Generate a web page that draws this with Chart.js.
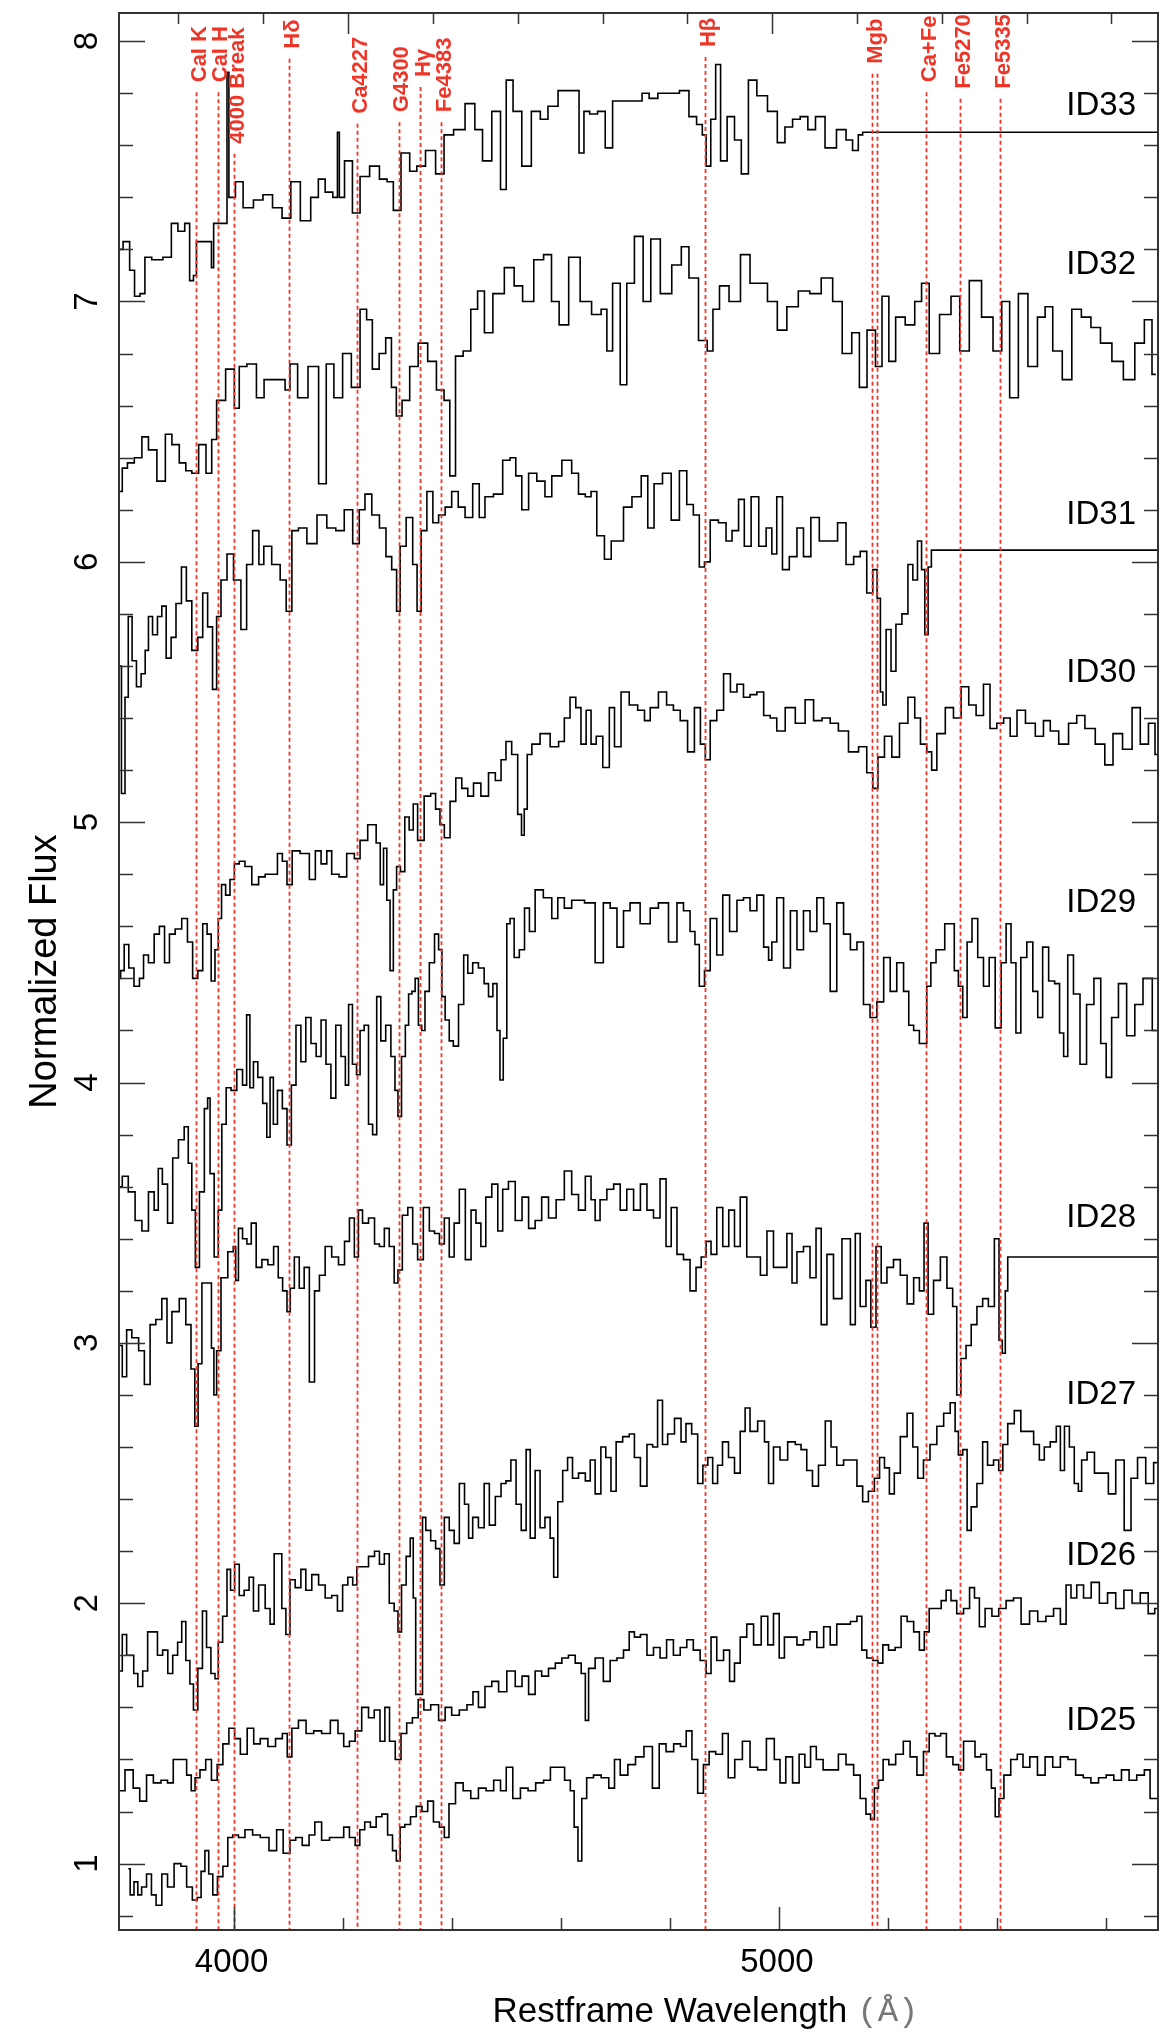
<!DOCTYPE html>
<html><head><meta charset="utf-8">
<script src="https://cdn.jsdelivr.net/npm/chart.js@4.4.1/dist/chart.umd.min.js"></script>
<style>html,body{margin:0;padding:0;background:#fff;}canvas{display:block;}</style>
</head><body>
<canvas id="c" width="1174" height="2040"></canvas>
<script>
// ---------- DATA (restframe wavelength in Å, normalized flux) ----------
const wl33 = [3791,3804,3815,3822,3835,3840,3860,3881,3891,3905,
 3916,3923,3930,3934,3958,3961,3966,3986,3990,3993,
 4000,4007,4028,4045,4063,4080,4098,4112,4133,4150,
 4161,4175,4189,4192,4196,4211,4225,4239,4260,4275,
 4288,4298,4316,4330,4342,4362,4379,4393,4414,4435,
 4450,4463,4484,4495,4505,4520,4537,4555,4570,4583,
 4607,4628,4639,4646,4660,4675,4688,4702,4723,4744,
 4754,4770,4786,4807,4828,4842,4856,4863,4870,4880,
 4888,4898,4912,4925,4937,4951,4968,4990,5004,5018,
 5032,5046,5060,5074,5095,5116,5130,5140,5151,5156,
 5695];
const fx33 = [7.20,7.23,7.12,7.02,7.03,7.17,7.16,7.17,7.30,7.27,
 7.30,7.08,7.10,7.23,7.23,7.13,7.30,7.30,7.88,7.40,
 7.40,7.46,7.36,7.39,7.41,7.36,7.32,7.46,7.31,7.40,
 7.47,7.42,7.40,7.65,7.40,7.54,7.34,7.48,7.52,7.47,
 7.46,7.35,7.57,7.50,7.52,7.58,7.49,7.64,7.66,7.76,
 7.66,7.54,7.73,7.43,7.85,7.73,7.52,7.73,7.70,7.75,
 7.81,7.81,7.57,7.73,7.72,7.73,7.59,7.77,7.77,7.77,
 7.80,7.78,7.80,7.80,7.81,7.71,7.68,7.64,7.52,7.70,
 7.91,7.54,7.71,7.62,7.49,7.85,7.79,7.73,7.61,7.67,
 7.70,7.71,7.66,7.71,7.59,7.66,7.62,7.58,7.64,7.65,
 7.65];

const wl32 = [3791,3801,3810,3826,3838,3850,3869,3881,3893,3908,
 3917,3930,3942,3957,3963,3975,3996,4007,4014,4035,
 4049,4063,4091,4098,4109,4126,4147,4165,4175,4193,
 4207,4225,4239,4249,4260,4274,4284,4295,4302,4316,
 4330,4347,4365,4379,4393,4400,4414,4428,4442,4453,
 4467,4484,4509,4520,4540,4561,4576,4590,4604,4625,
 4646,4667,4681,4688,4702,4716,4726,4744,4758,4772,
 4793,4814,4828,4842,4863,4874,4884,4898,4919,4940,
 4954,4968,4990,5004,5025,5046,5067,5088,5109,5123,
 5144,5151,5172,5182,5196,5207,5221,5242,5256,5267,
 5284,5305,5326,5337,5361,5382,5403,5414,5432,5446,
 5467,5481,5495,5509,5530,5544,5565,5579,5600,5621,
 5642,5663,5677,5691];
const fx32 = [6.27,6.36,6.38,6.40,6.48,6.43,6.31,6.49,6.45,6.38,
 6.35,6.34,6.45,6.34,6.47,6.62,6.74,6.59,6.75,6.76,
 6.63,6.70,6.70,6.66,6.76,6.63,6.75,6.30,6.76,6.63,
 6.80,6.67,6.97,6.93,6.74,6.80,6.86,6.67,6.56,6.62,
 6.75,6.84,6.77,6.66,6.62,6.33,6.79,6.81,6.97,7.04,
 6.88,7.03,7.13,7.06,7.00,7.16,7.18,7.00,6.91,7.17,
 7.00,6.95,6.97,6.81,7.07,6.68,7.07,7.25,7.00,7.24,
 7.03,7.14,7.21,7.09,6.85,6.81,6.97,7.06,7.00,7.18,
 7.07,7.07,7.00,6.89,6.98,7.04,7.03,7.09,7.00,6.80,
 6.88,6.67,6.89,6.75,7.02,6.77,6.94,6.91,7.00,7.07,
 6.80,6.95,7.02,6.81,7.08,6.94,6.81,7.00,6.63,7.03,
 6.75,6.94,6.98,6.81,6.70,6.97,6.94,6.90,6.84,6.77,
 6.70,6.84,6.93,6.72];

const wl31 = [3791,3798,3804,3810,3818,3826,3835,3841,3847,3856,
 3865,3872,3881,3890,3899,3910,3917,3930,3939,3948,
 3957,3966,3972,3982,3994,4006,4021,4027,4043,4050,
 4061,4079,4092,4101,4113,4125,4144,4162,4180,4195,
 4211,4226,4235,4247,4260,4275,4284,4296,4302,4309,
 4324,4333,4340,4348,4361,4370,4382,4394,4406,4418,
 4431,4446,4455,4467,4486,4501,4513,4522,4535,4547,
 4565,4577,4590,4614,4626,4639,4651,4660,4672,4688,
 4697,4709,4721,4740,4755,4764,4778,4795,4810,4825,
 4837,4849,4859,4868,4880,4898,4908,4920,4932,4941,
 4957,4969,4984,4990,5002,5011,5027,5039,5051,5066,
 5082,5100,5115,5131,5143,5155,5167,5177,5183,5189,
 5192,5201,5210,5219,5232,5241,5250,5258,5265,5270,
 5277,5282,5695];
const fx31 = [5.60,5.11,5.48,5.79,5.62,5.52,5.57,5.66,5.79,5.72,
 5.79,5.83,5.63,5.71,5.84,5.98,5.85,5.66,5.71,5.88,
 5.75,5.51,5.79,5.93,6.03,5.93,5.74,5.99,6.12,5.99,
 6.06,5.99,5.93,5.81,6.12,6.13,6.07,6.18,6.13,6.12,
 6.20,6.07,6.20,6.26,6.18,6.13,6.02,5.97,5.81,6.06,
 6.17,5.99,5.81,6.12,6.27,6.15,6.18,6.21,6.27,6.21,
 6.17,6.30,6.17,6.25,6.26,6.39,6.40,6.33,6.20,6.34,
 6.31,6.25,6.33,6.39,6.34,6.26,6.25,6.27,6.10,6.01,
 6.08,6.08,6.21,6.25,6.33,6.13,6.30,6.34,6.16,6.35,
 6.22,6.18,5.98,6.00,6.16,6.15,6.08,6.12,6.24,6.06,
 6.25,6.06,6.13,6.03,6.25,5.97,6.02,6.13,6.02,6.17,
 6.08,6.08,6.15,5.99,6.02,6.04,5.88,5.97,5.86,5.50,
 5.45,5.74,5.58,5.76,5.80,5.99,5.93,6.08,5.97,5.72,
 5.98,6.045,6.045];

const wl30 = [3791,3795,3804,3812,3823,3832,3838,3850,3859,3869,
 3878,3887,3899,3911,3920,3930,3939,3948,3955,3963,
 3969,3975,3981,3990,3997,4006,4015,4027,4040,4052,
 4064,4076,4085,4094,4102,4113,4131,4147,4153,4168,
 4174,4186,4201,4214,4229,4235,4257,4266,4272,4278,
 4284,4290,4296,4302,4310,4318,4326,4333,4342,4357,
 4366,4375,4382,4391,4403,4412,4425,4434,4446,4461,
 4474,4486,4495,4504,4516,4526,4530,4536,4541,4553,
 4571,4590,4602,4611,4623,4632,4642,4651,4660,4670,
 4684,4694,4703,4718,4733,4749,4758,4770,4788,4800,
 4813,4825,4840,4850,4862,4868,4880,4892,4905,4917,
 4929,4941,4953,4966,4978,4990,5002,5021,5039,5057,
 5070,5088,5100,5118,5137,5155,5167,5177,5186,5201,
 5213,5229,5244,5254,5265,5277,5283,5296,5314,5326,
 5342,5354,5369,5381,5393,5406,5418,5430,5443,5461,
 5479,5491,5504,5522,5540,5552,5570,5590,5605,5620,
 5640,5655,5670,5685,5694];
const fx30 = [4.40,4.43,4.53,4.44,4.37,4.40,4.49,4.46,4.57,4.60,
 4.46,4.57,4.59,4.63,4.54,4.40,4.43,4.61,4.57,4.39,
 4.51,4.63,4.76,4.72,4.78,4.84,4.85,4.83,4.76,4.79,
 4.80,4.80,4.88,4.85,4.76,4.89,4.88,4.78,4.89,4.84,
 4.89,4.80,4.79,4.88,4.86,4.93,4.99,4.92,4.76,4.90,
 4.70,4.43,4.74,4.83,4.81,5.02,4.97,5.07,4.93,5.10,
 5.11,5.05,4.99,4.94,5.08,5.17,5.13,5.10,5.15,5.10,
 5.19,5.16,5.24,5.31,5.26,5.03,4.95,5.05,5.26,5.30,
 5.34,5.29,5.31,5.40,5.48,5.44,5.30,5.43,5.30,5.33,
 5.21,5.44,5.29,5.50,5.45,5.43,5.39,5.44,5.50,5.45,
 5.43,5.39,5.27,5.44,5.30,5.24,5.39,5.43,5.57,5.50,
 5.53,5.48,5.49,5.50,5.41,5.40,5.35,5.44,5.38,5.47,
 5.39,5.40,5.38,5.35,5.27,5.29,5.19,5.13,5.25,5.33,
 5.25,5.38,5.48,5.40,5.30,5.27,5.20,5.34,5.44,5.40,
 5.52,5.45,5.41,5.53,5.36,5.38,5.40,5.33,5.43,5.38,
 5.33,5.39,5.35,5.30,5.38,5.41,5.36,5.30,5.22,5.34,
 5.28,5.44,5.30,5.38,5.26];

const wl29 = [3791,3801,3813,3826,3838,3850,3859,3865,3874,3884,
 3893,3905,3914,3920,3927,3933,3942,3951,3954,3960,
 3969,3975,3982,3991,4000,4012,4021,4027,4033,4040,
 4049,4058,4064,4070,4076,4085,4094,4102,4110,4119,
 4128,4137,4147,4156,4165,4174,4183,4192,4202,4208,
 4214,4222,4229,4235,4244,4251,4259,4266,4274,4284,
 4293,4299,4304,4312,4318,4324,4330,4336,4342,4348,
 4354,4364,4373,4379,4385,4391,4400,4406,4419,4425,
 4434,4443,4455,4464,4471,4480,4486,4491,4498,4504,
 4510,4519,4529,4538,4547,4559,4577,4590,4599,4614,
 4626,4639,4648,4660,4666,4672,4684,4697,4709,4721,
 4733,4758,4770,4788,4807,4819,4831,4843,4849,4859,
 4868,4880,4892,4902,4917,4929,4941,4953,4966,4978,
 4984,4990,5002,5015,5027,5039,5051,5063,5076,5088,
 5100,5112,5125,5137,5149,5161,5173,5186,5198,5210,
 5222,5235,5241,5253,5262,5268,5274,5283,5293,5300,
 5308,5317,5326,5332,5342,5348,5360,5369,5381,5390,
 5403,5412,5421,5430,5439,5448,5461,5470,5479,5488,
 5501,5510,5519,5525,5534,5546,5558,5570,5585,5595,
 5605,5615,5630,5645,5660,5675,5694];
const fx29 = [3.60,3.64,3.58,3.47,3.43,3.58,3.51,3.67,3.61,3.46,
 3.71,3.78,3.83,3.69,3.51,3.29,3.58,3.90,3.94,3.65,
 3.33,3.51,3.84,3.98,3.97,4.05,3.99,4.26,3.98,4.08,
 4.02,3.92,3.79,4.02,3.84,3.97,3.90,3.76,3.99,4.22,
 4.08,4.25,4.15,4.10,4.24,4.07,3.94,4.22,4.10,3.99,
 4.30,4.07,4.03,4.20,4.22,3.84,3.80,4.33,4.16,4.22,
 4.10,3.97,3.87,4.10,4.22,4.34,4.35,4.40,4.22,4.20,
 4.35,4.46,4.57,4.51,4.33,4.24,4.16,4.14,4.30,4.49,
 4.42,4.46,4.44,4.38,4.33,4.38,4.20,4.01,4.17,4.61,
 4.63,4.48,4.51,4.67,4.58,4.74,4.71,4.63,4.71,4.67,
 4.70,4.70,4.69,4.69,4.46,4.46,4.69,4.67,4.52,4.66,
 4.69,4.61,4.67,4.69,4.54,4.69,4.66,4.58,4.53,4.37,
 4.43,4.63,4.49,4.72,4.58,4.70,4.71,4.66,4.72,4.52,
 4.47,4.54,4.71,4.44,4.66,4.51,4.66,4.58,4.71,4.61,
 4.35,4.69,4.57,4.51,4.54,4.30,4.25,4.31,4.48,4.35,
 4.46,4.35,4.22,4.20,4.15,4.15,4.37,4.46,4.51,4.51,
 4.61,4.61,4.43,4.37,4.25,4.54,4.63,4.48,4.37,4.48,
 4.21,4.46,4.61,4.46,4.19,4.48,4.54,4.35,4.25,4.52,
 4.39,4.38,4.19,4.10,4.49,4.34,4.07,4.30,4.40,4.15,
 4.02,4.25,4.38,4.18,4.30,4.40,4.20];

const wl28 = [3791,3801,3807,3820,3832,3841,3853,3862,3875,3881,
 3893,3908,3917,3927,3931,3939,3945,3957,3962,3966,
 3972,3982,3997,4002,4006,4012,4021,4028,4037,4046,
 4058,4068,4079,4085,4095,4101,4107,4116,4125,4134,
 4144,4153,4162,4174,4186,4199,4208,4217,4226,4232,
 4241,4254,4263,4272,4281,4290,4299,4304,4315,4324,
 4333,4342,4354,4364,4373,4382,4391,4400,4409,4419,
 4431,4440,4449,4458,4467,4480,4489,4498,4510,4523,
 4535,4547,4559,4571,4584,4599,4614,4626,4639,4651,
 4660,4666,4678,4691,4703,4715,4727,4740,4752,4764,
 4776,4788,4798,4807,4819,4831,4843,4853,4862,4871,
 4880,4892,4902,4914,4923,4935,4947,4960,4972,4984,
 4996,5008,5021,5027,5039,5051,5063,5073,5082,5094,
 5106,5125,5137,5143,5155,5164,5173,5183,5192,5204,
 5216,5229,5241,5253,5262,5270,5277,5290,5302,5314,
 5323,5329,5338,5348,5357,5369,5378,5390,5400,5407,
 5412,5418,5421,5695];
const fx28 = [2.99,2.87,3.05,3.02,2.97,2.84,3.07,3.09,3.17,3.00,
 3.12,3.17,3.07,2.90,2.68,2.92,3.23,3.23,2.98,2.80,
 2.97,3.25,3.35,3.37,3.24,3.44,3.40,3.38,3.46,3.29,
 3.32,3.30,3.37,3.25,3.20,3.12,3.21,3.33,3.21,3.29,
 2.85,3.20,3.26,3.37,3.33,3.30,3.39,3.48,3.33,3.51,
 3.46,3.48,3.38,3.37,3.44,3.37,3.23,3.28,3.49,3.52,
 3.38,3.32,3.52,3.43,3.42,3.38,3.48,3.33,3.46,3.59,
 3.32,3.51,3.46,3.37,3.56,3.61,3.43,3.59,3.62,3.47,
 3.56,3.44,3.47,3.56,3.48,3.55,3.66,3.57,3.51,3.64,
 3.55,3.47,3.55,3.59,3.61,3.51,3.59,3.51,3.61,3.51,
 3.48,3.63,3.37,3.52,3.34,3.32,3.20,3.29,3.33,3.39,
 3.34,3.52,3.37,3.51,3.37,3.56,3.33,3.33,3.26,3.43,
 3.29,3.29,3.42,3.23,3.35,3.37,3.25,3.44,3.07,3.34,
 3.17,3.40,3.07,3.42,3.14,3.24,3.06,3.37,3.23,3.29,
 3.32,3.26,3.15,3.25,3.20,3.46,3.11,3.24,3.33,3.21,
 3.14,2.80,2.94,2.99,3.07,3.14,3.17,3.14,3.40,3.01,
 2.96,3.20,3.33,3.33];

const wl27 = [3791,3801,3807,3814,3820,3829,3838,3847,3856,3865,
 3875,3884,3893,3902,3908,3917,3923,3930,3939,3947,
 3954,3963,3969,3975,3985,3991,3998,4006,4015,4024,
 4033,4040,4052,4064,4070,4079,4085,4092,4100,4107,
 4119,4128,4137,4150,4162,4174,4186,4195,4205,4214,
 4223,4229,4241,4254,4263,4272,4281,4290,4299,4304,
 4312,4321,4327,4332,4336,4345,4348,4357,4366,4375,
 4382,4391,4400,4409,4419,4428,4434,4443,4455,4464,
 4474,4486,4495,4504,4513,4523,4532,4541,4547,4559,
 4565,4577,4584,4590,4599,4608,4617,4626,4639,4651,
 4657,4669,4678,4687,4697,4706,4721,4730,4740,4752,
 4764,4773,4782,4791,4801,4816,4825,4834,4846,4856,
 4865,4874,4883,4892,4901,4914,4923,4935,4941,4953,
 4969,4978,4984,4996,5008,5024,5036,5045,5057,5066,
 5079,5091,5100,5112,5125,5137,5149,5158,5170,5180,
 5189,5198,5207,5216,5229,5241,5250,5259,5271,5283,
 5296,5308,5320,5326,5332,5342,5348,5357,5369,5378,
 5387,5400,5406,5415,5424,5439,5448,5461,5473,5482,
 5491,5504,5513,5519,5528,5537,5546,5552,5558,5572,
 5585,5598,5610,5625,5641,5650,5665,5680,5694];
const fx27 = [1.74,1.88,1.80,1.80,1.73,1.68,1.74,1.89,1.89,1.80,
 1.82,1.73,1.80,1.85,1.93,1.78,1.69,1.59,1.75,1.97,
 1.83,1.73,1.71,1.85,1.95,2.13,2.05,2.15,2.03,2.05,
 2.10,1.97,2.07,1.98,1.92,2.19,2.19,1.98,1.88,2.09,
 2.06,2.13,2.05,2.11,2.07,2.02,2.03,1.97,2.07,2.10,
 2.07,2.14,2.14,2.18,2.20,2.15,2.19,2.00,1.97,1.89,
 2.07,2.18,2.25,2.02,1.65,1.65,2.33,2.28,2.24,2.21,
 2.07,2.33,2.28,2.23,2.46,2.38,2.25,2.33,2.29,2.46,
 2.30,2.41,2.46,2.47,2.55,2.38,2.28,2.59,2.25,2.51,
 2.29,2.33,2.25,2.10,2.39,2.51,2.56,2.48,2.50,2.47,
 2.55,2.42,2.60,2.56,2.43,2.62,2.64,2.65,2.56,2.45,
 2.61,2.60,2.78,2.61,2.65,2.71,2.62,2.69,2.65,2.46,
 2.53,2.56,2.46,2.53,2.62,2.56,2.50,2.66,2.75,2.66,
 2.70,2.62,2.46,2.60,2.55,2.62,2.61,2.59,2.51,2.45,
 2.53,2.70,2.60,2.53,2.55,2.55,2.45,2.39,2.43,2.48,
 2.56,2.52,2.42,2.50,2.64,2.73,2.60,2.48,2.55,2.61,
 2.68,2.73,2.77,2.66,2.57,2.59,2.28,2.37,2.46,2.62,
 2.53,2.55,2.51,2.61,2.69,2.74,2.66,2.66,2.61,2.55,
 2.60,2.62,2.68,2.51,2.68,2.60,2.46,2.43,2.55,2.58,
 2.50,2.50,2.42,2.55,2.28,2.48,2.56,2.46,2.54];

const wl26 = [3791,3811,3821,3835,3846,3860,3874,3884,3895,3909,
 3919,3926,3933,3944,3954,3965,3975,3986,3997,4007,
 4018,4032,4042,4056,4070,4084,4095,4102,4112,4126,
 4140,4154,4169,4186,4197,4207,4218,4228,4242,4253,
 4263,4274,4281,4291,4302,4312,4323,4333,4344,4354,
 4369,4383,4393,4407,4421,4435,4443,4455,4467,4480,
 4492,4510,4523,4535,4547,4559,4571,4584,4596,4608,
 4620,4633,4642,4648,4654,4672,4684,4697,4709,4721,
 4730,4740,4752,4764,4776,4788,4800,4813,4825,4837,
 4849,4862,4871,4880,4892,4905,4914,4923,4935,4947,
 4960,4975,4984,4996,5005,5015,5027,5039,5051,5063,
 5076,5088,5100,5112,5125,5137,5149,5155,5167,5177,
 5186,5195,5207,5219,5229,5241,5253,5262,5271,5280,
 5293,5302,5311,5320,5332,5345,5354,5363,5372,5384,
 5397,5409,5424,5436,5452,5467,5482,5497,5510,5522,
 5531,5540,5552,5565,5580,5595,5610,5625,5640,5655,
 5670,5684,5694];
const fx26 = [1.28,1.36,1.29,1.24,1.34,1.31,1.32,1.31,1.40,1.40,
 1.34,1.28,1.33,1.36,1.40,1.32,1.38,1.46,1.52,1.48,
 1.42,1.52,1.46,1.48,1.45,1.48,1.50,1.41,1.52,1.55,
 1.50,1.51,1.50,1.55,1.50,1.45,1.47,1.51,1.60,1.56,
 1.59,1.47,1.60,1.47,1.40,1.50,1.54,1.56,1.63,1.59,
 1.61,1.55,1.60,1.57,1.59,1.61,1.66,1.60,1.68,1.70,
 1.66,1.74,1.68,1.72,1.65,1.74,1.72,1.75,1.77,1.79,
 1.80,1.77,1.73,1.55,1.75,1.79,1.70,1.78,1.79,1.82,
 1.89,1.87,1.88,1.80,1.83,1.79,1.86,1.80,1.83,1.86,
 1.82,1.78,1.73,1.87,1.78,1.82,1.70,1.77,1.87,1.92,
 1.84,1.95,1.84,1.96,1.79,1.87,1.87,1.84,1.86,1.89,
 1.83,1.91,1.84,1.92,1.92,1.93,1.95,1.82,1.79,1.78,
 1.77,1.84,1.82,1.83,1.95,1.93,1.89,1.82,1.89,1.98,
 1.98,2.01,2.05,2.01,1.96,1.98,2.06,2.02,1.91,1.98,
 1.95,1.98,2.01,2.02,1.92,1.97,1.93,1.95,1.98,1.92,
 2.07,2.02,2.07,2.02,2.08,2.00,2.04,1.98,2.05,2.00,
 2.04,1.96,1.98];

const wl25 = [3807,3814,3821,3828,3835,3846,3853,3863,3874,3884,
 3898,3909,3919,3930,3937,3944,3951,3958,3966,3975,
 3986,3993,4004,4014,4028,4042,4056,4074,4084,4098,
 4109,4119,4133,4144,4154,4169,4183,4197,4207,4218,
 4228,4235,4246,4256,4267,4277,4288,4295,4302,4309,
 4319,4330,4340,4351,4361,4372,4383,4390,4400,4414,
 4428,4442,4456,4470,4484,4495,4505,4519,4533,4547,
 4561,4576,4586,4600,4614,4621,4628,4635,4642,4653,
 4667,4681,4695,4702,4716,4730,4744,4761,4775,4786,
 4800,4814,4825,4835,4846,4856,4867,4877,4891,4902,
 4912,4926,4940,4954,4968,4986,4997,5007,5018,5032,
 5042,5053,5063,5074,5088,5102,5116,5130,5144,5154,
 5165,5171,5179,5186,5196,5207,5221,5235,5246,5260,
 5270,5281,5291,5302,5312,5326,5333,5344,5354,5365,
 5375,5386,5393,5400,5407,5418,5432,5442,5453,5467,
 5481,5495,5509,5523,5537,5551,5565,5579,5593,5607,
 5621,5635,5649,5663,5677,5684,5694];
const fx25 = [0.98,0.88,0.93,0.88,0.91,0.96,0.88,0.84,0.96,0.91,
 1.00,0.99,0.91,0.86,0.87,0.97,1.05,0.96,0.88,0.95,
 0.99,1.10,1.11,1.10,1.13,1.11,1.10,1.05,1.13,1.04,
 1.09,1.10,1.07,1.11,1.16,1.09,1.10,1.10,1.14,1.10,
 1.07,1.13,1.16,1.14,1.18,1.19,1.11,1.05,1.01,1.14,
 1.15,1.18,1.22,1.20,1.24,1.16,1.14,1.10,1.23,1.31,
 1.28,1.25,1.29,1.28,1.32,1.28,1.37,1.25,1.29,1.28,
 1.31,1.32,1.37,1.37,1.32,1.28,1.14,1.01,1.25,1.33,
 1.34,1.33,1.29,1.40,1.34,1.38,1.41,1.45,1.29,1.46,
 1.43,1.46,1.45,1.51,1.40,1.27,1.38,1.43,1.42,1.50,
 1.33,1.40,1.47,1.37,1.36,1.48,1.40,1.31,1.41,1.31,
 1.42,1.37,1.45,1.40,1.36,1.36,1.42,1.38,1.34,1.25,
 1.19,1.17,1.29,1.32,1.40,1.38,1.42,1.47,1.41,1.34,
 1.43,1.50,1.49,1.50,1.41,1.38,1.36,1.47,1.47,1.41,
 1.42,1.36,1.29,1.18,1.25,1.34,1.40,1.42,1.37,1.41,
 1.34,1.41,1.37,1.41,1.40,1.34,1.33,1.31,1.33,1.34,
 1.32,1.36,1.32,1.34,1.36,1.25,1.25];

const seriesNames = ['ID25','ID26','ID27','ID28','ID29','ID30','ID31','ID32','ID33'];
const seriesWavelengths = [wl25,wl26,wl27,wl28,wl29,wl30,wl31,wl32,wl33];
const seriesFluxes = [fx25,fx26,fx27,fx28,fx29,fx30,fx31,fx32,fx33];
const seriesLabelFlux = [1.55,2.18,2.80,3.48,4.69,5.575,6.18,7.14,7.75];

const lineNames = ['CaI K','CaI H','4000 Break','H\u03b4','Ca4227','G4300','H\u03b3','Fe4383','H\u03b2','Mgb','','Ca+Fe','Fe5270','Fe5335'];
const lineWavelengths = [3932,3971,4001,4102,4227,4303,4342,4381,4865,5171,5180,5270,5332,5406];
const lineLabelFlux = [7.842,7.842,7.606,7.971,7.721,7.727,7.862,7.727,7.977,7.913,7.913,7.842,7.817,7.817];

const yTickValues = [0.8,1.0,1.2,1.4,1.6,1.8,2.0,2.2,2.4,2.6,2.8,3.0,3.2,3.4,3.6,3.8,4.0,4.2,4.4,4.6,4.8,5.0,5.2,5.4,5.6,5.8,6.0,6.2,6.4,6.6,6.8,7.0,7.2,7.4,7.6,7.8,8.0];
const yTickLabels = [1,2,3,4,5,6,7,8];
const xTickValues = [4000,4200,4400,4600,4800,5000,5200,5400,5600];
const xTickLabels = [4000,5000];
const topTickValues = [3899,4054.5,4210,4365.5,4521,4676.5,4832,4987.5,5143,5298.5,5454,5609.5];
const topMajorTicks = [4210,4987.5];

// ---------- STYLE ----------
const RED = 'rgb(238,54,40)';
const AXIS = '#333';
const SANS = '"Liberation Sans", Arial, Helvetica, sans-serif';
const MONO = '"Liberation Mono", "DejaVu Sans Mono", monospace';

const decor = {
  id: 'decor',
  afterDatasetsDraw(chart) {
    const {ctx, chartArea: a, scales: {x, y}} = chart;
    ctx.save();
    ctx.strokeStyle = RED; ctx.lineWidth = 1.8; ctx.setLineDash([4, 3]);
    lineWavelengths.forEach((w, i) => {
      const px = Math.round(x.getPixelForValue(w)) + 0.5;
      const top = y.getPixelForValue(lineLabelFlux[i]) + 10;
      ctx.beginPath(); ctx.moveTo(px, top); ctx.lineTo(px, a.bottom); ctx.stroke();
    });
    ctx.setLineDash([]);
    ctx.fillStyle = RED;
    ctx.font = 'bold 22px ' + SANS;
    ctx.textAlign = 'left'; ctx.textBaseline = 'middle';
    lineNames.forEach((n, i) => {
      if (!n) return;
      const px = x.getPixelForValue(lineWavelengths[i]) + 3.5;
      const py = y.getPixelForValue(lineLabelFlux[i]);
      ctx.save(); ctx.translate(px, py); ctx.rotate(-Math.PI / 2); ctx.fillText(n, 0, 0); ctx.restore();
    });
    ctx.restore();
  },
  afterDraw(chart) {
    const {ctx, chartArea: a, scales: {x, y}} = chart;
    ctx.save();
    ctx.strokeStyle = AXIS; ctx.lineWidth = 2;
    ctx.strokeRect(a.left, a.top, a.right - a.left, a.bottom - a.top);
    ctx.lineWidth = 1.5;
    ctx.beginPath();
    yTickValues.forEach(v => {
      const py = Math.round(y.getPixelForValue(v)) + 0.5;
      const major = Math.abs(v - Math.round(v)) < 1e-6;
      const len = major ? 26 : 14;
      ctx.moveTo(a.left, py); ctx.lineTo(a.left + len, py);
      ctx.moveTo(a.right, py); ctx.lineTo(a.right - len, py);
    });
    xTickValues.forEach(v => {
      const px = Math.round(x.getPixelForValue(v)) + 0.5;
      const len = xTickLabels.includes(v) ? 23 : 12;
      ctx.moveTo(px, a.bottom); ctx.lineTo(px, a.bottom - len);
    });
    topTickValues.forEach(v => {
      const px = Math.round(x.getPixelForValue(v)) + 0.5;
      const len = topMajorTicks.includes(v) ? 21 : 11;
      ctx.moveTo(px, a.top); ctx.lineTo(px, a.top + len);
    });
    ctx.stroke();
    ctx.fillStyle = '#000';
    ctx.font = '33px ' + SANS;
    ctx.textAlign = 'center'; ctx.textBaseline = 'middle';
    yTickLabels.forEach(v => {
      const py = y.getPixelForValue(v);
      ctx.save(); ctx.translate(a.left - 31, py); ctx.rotate(-Math.PI / 2); ctx.fillText(String(v), 0, 0); ctx.restore();
    });
    xTickLabels.forEach(v => {
      ctx.fillText(String(v), x.getPixelForValue(v) - 2, a.bottom + 33);
    });
    ctx.font = '38px ' + SANS;
    ctx.save(); ctx.translate(a.left - 73, (a.top + a.bottom) / 2); ctx.rotate(-Math.PI / 2);
    ctx.fillText('Normalized Flux', 0, 0); ctx.restore();
    const t1 = 'Restframe Wavelength';
    const t2 = '(\u00c5)';
    ctx.font = '35px ' + SANS;
    const w1 = ctx.measureText(t1).width;
    ctx.font = '34px ' + MONO;
    const w2 = ctx.measureText(t2).width;
    const gap = 10;
    const cx = (a.left + a.right) / 2 + 67;
    const start = cx - (w1 + gap + w2) / 2;
    ctx.textAlign = 'left';
    ctx.font = '35px ' + SANS; ctx.fillStyle = '#000';
    ctx.fillText(t1, start, a.bottom + 82);
    ctx.font = '34px ' + MONO; ctx.fillStyle = '#777';
    ctx.fillText(t2, start + w1 + gap, a.bottom + 82);
    ctx.fillStyle = '#000';
    ctx.font = '33px ' + SANS;
    ctx.textAlign = 'right';
    seriesNames.forEach((n, i) => {
      ctx.fillText(n, a.right - 22, y.getPixelForValue(seriesLabelFlux[i]));
    });
    ctx.restore();
  }
};

const datasets = seriesNames.map((name, i) => ({
  label: name,
  data: seriesWavelengths[i].map((w, k) => ({x: w, y: seriesFluxes[i][k]})),
  borderColor: '#000',
  borderWidth: 1.6,
  pointRadius: 0,
  stepped: 'middle',
  fill: false
}));

new Chart(document.getElementById('c'), {
  type: 'line',
  data: {datasets},
  options: {
    responsive: false,
    animation: false,
    devicePixelRatio: 1,
    parsing: true,
    layout: {padding: {left: 119, right: 16, top: 13, bottom: 110}},
    plugins: {legend: {display: false}, tooltip: {enabled: false}},
    scales: {
      x: {type: 'linear', min: 3790, max: 5695, display: false},
      y: {type: 'linear', min: 0.745, max: 8.108, display: false}
    }
  },
  plugins: [decor]
});
</script>
</body></html>
